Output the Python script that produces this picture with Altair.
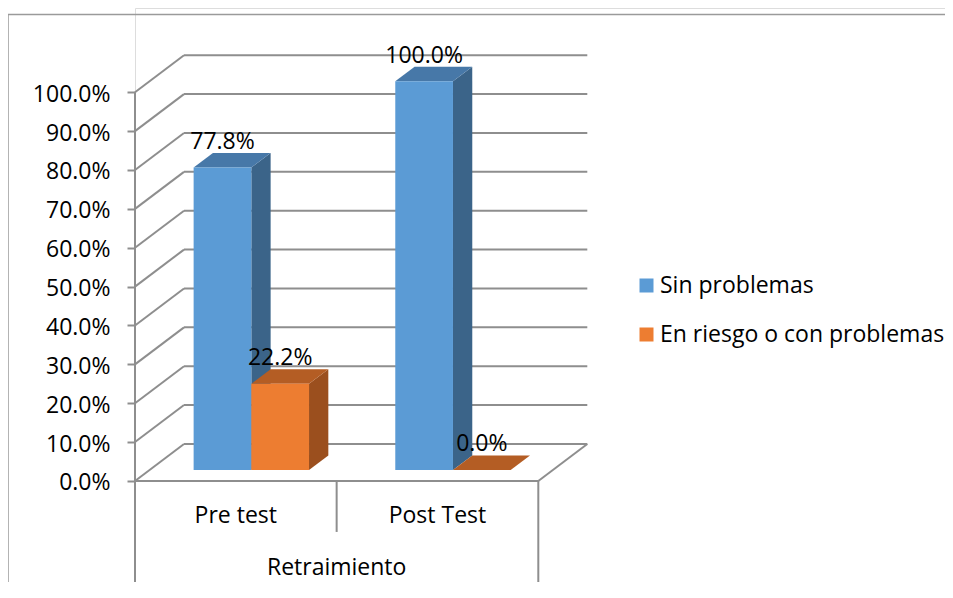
import altair as alt
import pandas as pd

# ---------------- data ----------------
categories = ["Pre test", "Post Test"]
group_label = "Retraimiento"
series = ["Sin problemas", "En riesgo o con problemas"]
sin_problemas = [77.8, 100.0]
en_riesgo = [22.2, 0.0]
y_ticks = [0, 10, 20, 30, 40, 50, 60, 70, 80, 90, 100]

# ---------------- style ----------------
front_colors = ["#5B9BD5", "#ED7D31"]
top_colors = ["#4778A8", "#B45D24"]
side_colors = ["#3B6489", "#9B4F1E"]
GRID = "#8E8E8E"
FONT = "Open Sans"
FS = 23

# ---------------- layout (pixel -> data units) ----------------
W, H = 810, 574
PAD_LEFT = 127
PX_X = 201.65          # px per category unit
PX_Y = 3.887           # px per percent point
Y_MIN = -26.0
Y_MAX = Y_MIN + H / PX_Y
X_MIN = 0.0
X_MAX = W / PX_X

BDX, BDY = 49 / PX_X, 37 / PX_Y          # back-wall depth
BAR_W = 57.7 / PX_X                      # bar width
BOX, BOY = 15.5 / PX_X, 11 / PX_Y        # bar front plane offset
DX, DY = 19.3 / PX_X, 14.5 / PX_Y        # bar depth
N = len(categories)

xs = alt.Scale(domain=[X_MIN, X_MAX], nice=False, zero=False)
ys = alt.Scale(domain=[Y_MIN, Y_MAX], nice=False, zero=False)
yaxis = alt.Axis(values=y_ticks, labelExpr="format(datum.value/100, '.1%')",
                 domain=False, grid=False, ticks=True, tickSize=8, tickWidth=2,
                 tickColor=GRID, labelFont=FONT, labelFontSize=FS, labelColor="#000",
                 labelPadding=17, labelOffset=2, title=None)


def X(f="x"):
    return alt.X(f"{f}:Q", scale=xs, axis=None)


def Y(f="y"):
    return alt.Y(f"{f}:Q", scale=ys, axis=yaxis)


# ---------------- grid / frame lines ----------------
lines = []
for v in y_ticks:
    lines.append(dict(x=BDX, x2=N + BDX, y=v + BDY, y2=v + BDY))   # back wall
    lines.append(dict(x=0, x2=BDX, y=v, y2=v + BDY))               # side wall diagonal
lines.append(dict(x=0, x2=N, y=0, y2=0))                            # floor front edge
lines.append(dict(x=N, x2=N + BDX, y=0, y2=BDY))                    # floor right edge
lines.append(dict(x=0, x2=0, y=y_ticks[-1], y2=Y_MIN))              # front axis + divider
for i in range(1, N):
    lines.append(dict(x=i, x2=i, y=0, y2=-51 / PX_Y))               # inner divider
lines.append(dict(x=N, x2=N, y=0, y2=Y_MIN))                        # right divider
lines_df = pd.DataFrame(lines)

grid = alt.Chart(lines_df).mark_rule(color=GRID, strokeWidth=2).encode(
    x=X(), x2="x2:Q", y=Y(), y2="y2:Q")

# outer chart border (left and top edges)
bx = (8 - 135) / PX_X
bt = Y_MAX - 6.5 / PX_Y
border_df = pd.DataFrame([dict(x=bx, x2=bx, y=bt, y2=Y_MIN),
                          dict(x=bx, x2=X_MAX, y=bt, y2=bt)])
border = alt.Chart(border_df).mark_rule(color="#9A9A9A", strokeWidth=1.5).encode(
    x=X(), x2="x2:Q", y=Y(), y2="y2:Q")

# ---------------- 3D bars ----------------
values = [sin_problemas, en_riesgo]
layers = [border, grid]
label_rows = []
for j, s in enumerate(series):
    fronts = []
    face_layers = []
    for i, c in enumerate(categories):
        val = values[j][i]
        x0 = i + 0.5 + BOX + (j - len(series) / 2) * BAR_W
        x1 = x0 + BAR_W
        y0 = BOY
        y1 = y0 + val
        fronts.append(dict(series=s, x=x0, x2=x1, y=y0, y2=y1))
        # right side face (vertical parallelogram)
        side_df = pd.DataFrame([dict(x=x1, y=y0, y2=y1),
                                dict(x=x1 + DX, y=y0 + DY, y2=y1 + DY)])
        # top face (as area between lower and upper outline)
        top_df = pd.DataFrame([dict(x=x0, y=y1, y2=y1),
                               dict(x=x0 + DX, y=y1, y2=y1 + DY),
                               dict(x=x1, y=y1, y2=y1 + DY),
                               dict(x=x1 + DX, y=y1 + DY, y2=y1 + DY)])
        if val > 0:
            face_layers.append(alt.Chart(side_df).mark_area(
                color=side_colors[j], opacity=1).encode(x=X(), y=Y(), y2="y2:Q"))
        face_layers.append(alt.Chart(top_df).mark_area(
            color=top_colors[j], opacity=1).encode(x=X(), y=Y(), y2="y2:Q"))
        label_rows.append(dict(x=(x0 + x1) / 2, y=y1 + DY + 4 / PX_Y,
                               label=f"{val:.1f}%"))
    front = alt.Chart(pd.DataFrame(fronts)).mark_rect().encode(
        x=X(), x2="x2:Q", y=Y(), y2="y2:Q",
        color=alt.Color("series:N",
                        scale=alt.Scale(domain=series, range=front_colors),
                        legend=alt.Legend(orient="none", legendX=500, legendY=266,
                                          title=None, symbolType="square",
                                          symbolSize=196, symbolStrokeWidth=0,
                                          labelFont=FONT, labelFontSize=FS,
                                          labelColor="#000", labelOffset=2,
                                          labelLimit=500, rowPadding=25)))
    layers += face_layers + [front]

# ---------------- texts ----------------
labels = alt.Chart(pd.DataFrame(label_rows)).mark_text(
    font=FONT, fontSize=FS, color="#000", baseline="alphabetic", align="center").encode(
    x=X(), y=Y(), text="label:N")

cat_df = pd.DataFrame(dict(x=[i + 0.5 for i in range(N)],
                           y=[-42 / PX_Y] * N, label=categories))
cat_text = alt.Chart(cat_df).mark_text(
    font=FONT, fontSize=FS, color="#000", baseline="alphabetic", align="center").encode(
    x=X(), y=Y(), text="label:N")

grp_df = pd.DataFrame(dict(x=[N / 2], y=[-94 / PX_Y], label=[group_label]))
grp_text = alt.Chart(grp_df).mark_text(
    font=FONT, fontSize=FS, color="#000", baseline="alphabetic", align="center").encode(
    x=X(), y=Y(), text="label:N")

layers += [labels, cat_text, grp_text]

chart = alt.layer(*layers).properties(
    width=W, height=H,
    autosize=alt.AutoSizeParams(type="none"),
    padding={"left": PAD_LEFT, "top": 0, "right": 0, "bottom": 0},
).configure_view(stroke=None).configure(font=FONT, background="white")

chart.save("out.html", embed_options={"renderer": "svg", "actions": False})
